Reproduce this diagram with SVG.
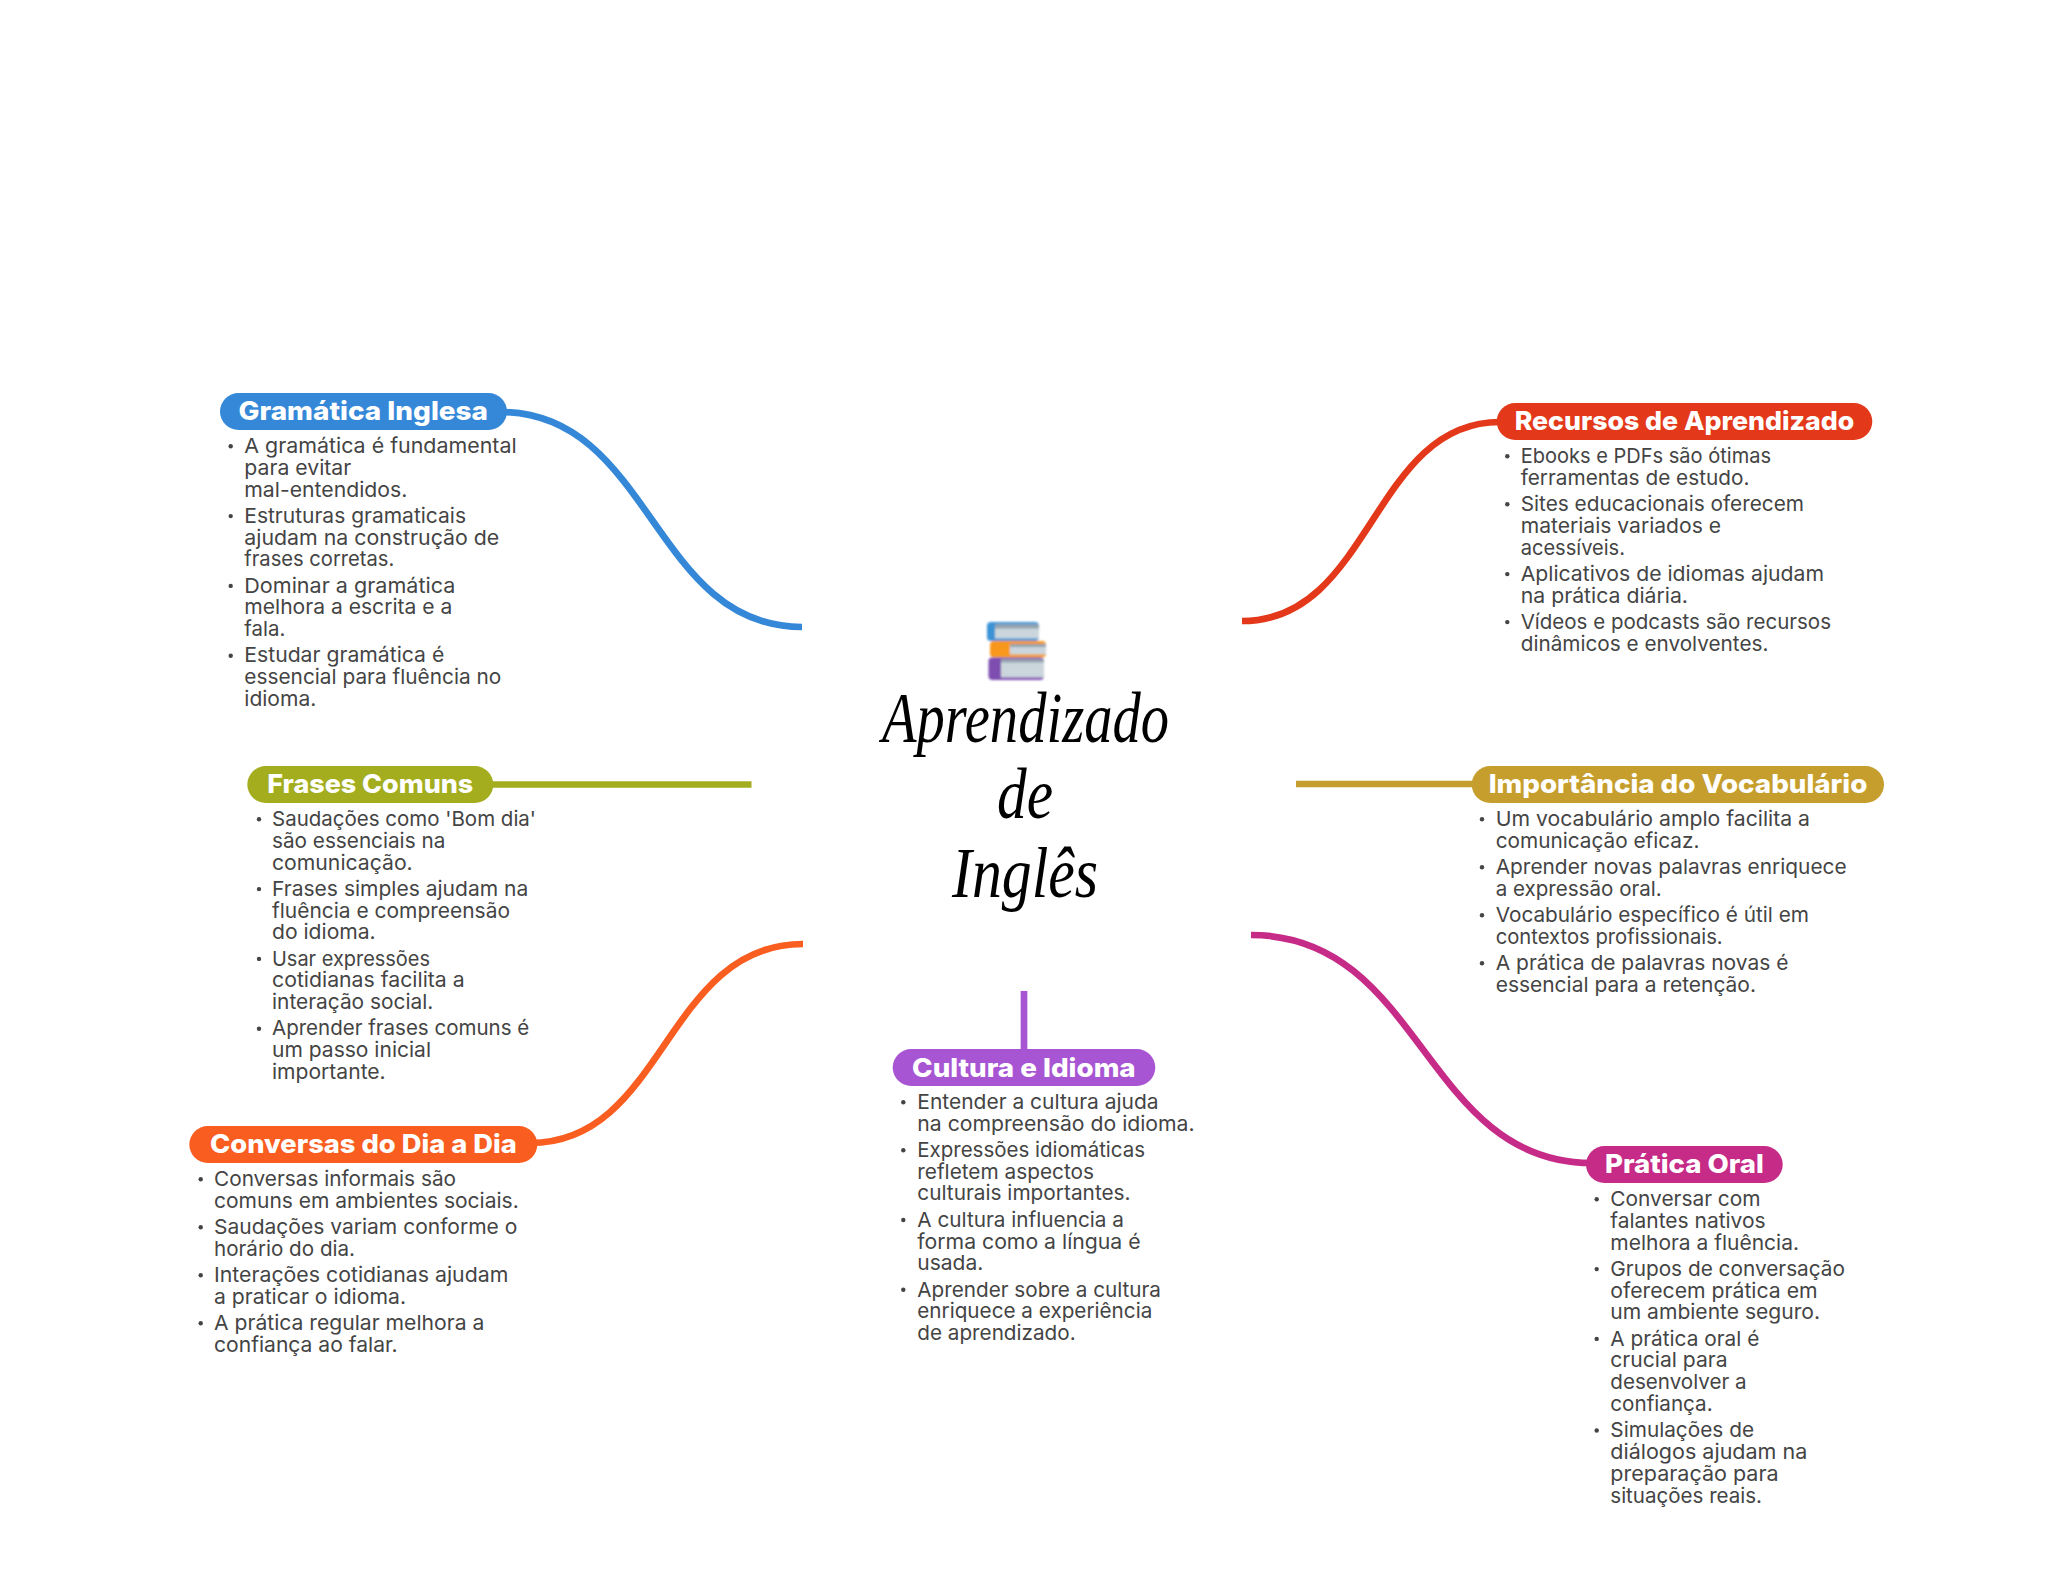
<svg xmlns="http://www.w3.org/2000/svg" width="2048" height="1569" viewBox="0 0 2048 1569">
<style>
.t{font-family:Inter,"Noto Sans","Liberation Sans",sans-serif;font-size:20.5px;font-weight:400;fill:#444}
.h{font-family:Inter,"Noto Sans","Liberation Sans",sans-serif;font-size:26px;font-weight:800;fill:#fff;transform:translateY(.6px)}
.s{font-family:"Liberation Serif",serif;font-style:italic;font-size:72px;fill:#000}
.c{fill:none;stroke-width:6.7}
circle{fill:#444}
</style>
<defs><filter id="soft" x="-10%" y="-10%" width="120%" height="120%"><feGaussianBlur stdDeviation="0.9"/></filter></defs>
<rect width="2048" height="1569" fill="#fff"/>
<g id="connectors">
<path class="c" stroke="#3588D8" d="M500 412C652 412 652 627 802 627"/>
<path class="c" stroke="#E3391A" d="M1242 621C1372 621 1372 422 1500 422"/>
<path class="c" stroke="#F95D20" d="M803 944C665 944 665 1143 530 1143"/>
<path class="c" stroke="#C62B88" d="M1251 935C1423 935 1423 1163 1592 1163"/>
<path class="c" stroke="#A3AD1E" d="M490 784.5H751.5"/>
<path class="c" stroke="#C69E2D" d="M1296 784H1476"/>
<path class="c" stroke="#A855D4" d="M1024 991V1052"/>
</g>
<g id="center">
<g id="books" filter="url(#soft)">
<rect x="987" y="622" width="52" height="19" rx="4" fill="#3A93D6"/><rect x="995" y="624.5" width="44" height="14" fill="#CBD6DC"/><rect x="995" y="624.5" width="44" height="4" fill="#93A3AD"/>
<rect x="990" y="641" width="56" height="16.5" rx="4" fill="#F7981D"/><rect x="1010" y="644" width="36" height="10.5" fill="#CBD6DC"/><rect x="1010" y="644" width="36" height="3" fill="#93A3AD"/>
<rect x="988.5" y="657.5" width="55.5" height="22.5" rx="4" fill="#7E4DB0"/><rect x="1001" y="659.5" width="43" height="18" fill="#CBD6DC"/><rect x="1001" y="659.5" width="43" height="3" fill="#93A3AD"/>
</g>
<text class="s" x="882" y="741.7" textLength="287" lengthAdjust="spacingAndGlyphs">Aprendizado</text>
<text class="s" x="997" y="818" textLength="56" lengthAdjust="spacingAndGlyphs">de</text>
<text class="s" x="952" y="896.7" textLength="146" lengthAdjust="spacingAndGlyphs">Inglês</text>
</g>
<g id="gramatica">
<rect x="220" y="393" width="287" height="37" rx="18.5" fill="#3588D8"/>
<text class="h" x="238.5" y="419.3" textLength="249.5" lengthAdjust="spacingAndGlyphs">Gramática Inglesa</text>
<circle cx="230.7" cy="446.3" r="2.2"/><circle cx="230.7" cy="516.1" r="2.2"/><circle cx="230.7" cy="585.9" r="2.2"/><circle cx="230.7" cy="655.7" r="2.2"/>
<text class="t" x="244.3" y="453" textLength="272.3" lengthAdjust="spacingAndGlyphs">A gramática é fundamental</text>
<text class="t" x="244.3" y="474.8" textLength="107" lengthAdjust="spacingAndGlyphs">para evitar</text>
<text class="t" x="244.3" y="496.5" textLength="163" lengthAdjust="spacingAndGlyphs">mal-entendidos.</text>
<text class="t" x="244.3" y="522.8" textLength="221.7" lengthAdjust="spacingAndGlyphs">Estruturas gramaticais</text>
<text class="t" x="244.3" y="544.6" textLength="255" lengthAdjust="spacingAndGlyphs">ajudam na construção de</text>
<text class="t" x="244.3" y="566.3" textLength="150" lengthAdjust="spacingAndGlyphs">frases corretas.</text>
<text class="t" x="244.3" y="592.6" textLength="211" lengthAdjust="spacingAndGlyphs">Dominar a gramática</text>
<text class="t" x="244.3" y="614.4" textLength="208" lengthAdjust="spacingAndGlyphs">melhora a escrita e a</text>
<text class="t" x="244.3" y="636.1" textLength="41" lengthAdjust="spacingAndGlyphs">fala.</text>
<text class="t" x="244.3" y="662.4" textLength="200" lengthAdjust="spacingAndGlyphs">Estudar gramática é</text>
<text class="t" x="244.3" y="684.2" textLength="257" lengthAdjust="spacingAndGlyphs">essencial para fluência no</text>
<text class="t" x="244.3" y="705.9" textLength="72" lengthAdjust="spacingAndGlyphs">idioma.</text>
</g>
<g id="frases">
<rect x="247.3" y="766" width="246" height="37" rx="18.5" fill="#A3AD1E"/>
<text class="h" x="267.3" y="792.7" textLength="206" lengthAdjust="spacingAndGlyphs">Frases Comuns</text>
<circle cx="259" cy="819.3" r="2.2"/><circle cx="259" cy="889.1" r="2.2"/><circle cx="259" cy="958.9" r="2.2"/><circle cx="259" cy="1028.7" r="2.2"/>
<text class="t" x="272" y="826" textLength="264" lengthAdjust="spacingAndGlyphs">Saudações como 'Bom dia'</text>
<text class="t" x="272" y="847.8" textLength="173.3" lengthAdjust="spacingAndGlyphs">são essenciais na</text>
<text class="t" x="272" y="869.5" textLength="140.7" lengthAdjust="spacingAndGlyphs">comunicação.</text>
<text class="t" x="272" y="895.8" textLength="256.3" lengthAdjust="spacingAndGlyphs">Frases simples ajudam na</text>
<text class="t" x="272" y="917.6" textLength="238" lengthAdjust="spacingAndGlyphs">fluência e compreensão</text>
<text class="t" x="272" y="939.3" textLength="103.7" lengthAdjust="spacingAndGlyphs">do idioma.</text>
<text class="t" x="272" y="965.6" textLength="158" lengthAdjust="spacingAndGlyphs">Usar expressões</text>
<text class="t" x="272" y="987.4" textLength="192.7" lengthAdjust="spacingAndGlyphs">cotidianas facilita a</text>
<text class="t" x="272" y="1009.1" textLength="161.3" lengthAdjust="spacingAndGlyphs">interação social.</text>
<text class="t" x="272" y="1035.4" textLength="257.3" lengthAdjust="spacingAndGlyphs">Aprender frases comuns é</text>
<text class="t" x="272" y="1057.2" textLength="159" lengthAdjust="spacingAndGlyphs">um passo inicial</text>
<text class="t" x="272" y="1078.9" textLength="113.7" lengthAdjust="spacingAndGlyphs">importante.</text>
</g>
<g id="conversas">
<rect x="189.3" y="1126" width="348" height="37" rx="18.5" fill="#F95D20"/>
<text class="h" x="210" y="1152.7" textLength="306.7" lengthAdjust="spacingAndGlyphs">Conversas do Dia a Dia</text>
<circle cx="200.7" cy="1179.3" r="2.2"/><circle cx="200.7" cy="1227.2" r="2.2"/><circle cx="200.7" cy="1275.2" r="2.2"/><circle cx="200.7" cy="1323.2" r="2.2"/>
<text class="t" x="214" y="1186" textLength="242" lengthAdjust="spacingAndGlyphs">Conversas informais são</text>
<text class="t" x="214" y="1207.8" textLength="304.7" lengthAdjust="spacingAndGlyphs">comuns em ambientes sociais.</text>
<text class="t" x="214" y="1233.9" textLength="303.3" lengthAdjust="spacingAndGlyphs">Saudações variam conforme o</text>
<text class="t" x="214" y="1255.7" textLength="141" lengthAdjust="spacingAndGlyphs">horário do dia.</text>
<text class="t" x="214" y="1281.9" textLength="294.3" lengthAdjust="spacingAndGlyphs">Interações cotidianas ajudam</text>
<text class="t" x="214" y="1303.7" textLength="192" lengthAdjust="spacingAndGlyphs">a praticar o idioma.</text>
<text class="t" x="214" y="1329.9" textLength="270.3" lengthAdjust="spacingAndGlyphs">A prática regular melhora a</text>
<text class="t" x="214" y="1351.7" textLength="183.7" lengthAdjust="spacingAndGlyphs">confiança ao falar.</text>
</g>
<g id="cultura">
<rect x="892.7" y="1049" width="262.6" height="37" rx="18.5" fill="#A855D4"/>
<text class="h" x="912" y="1076" textLength="223.7" lengthAdjust="spacingAndGlyphs">Cultura e Idioma</text>
<circle cx="903.3" cy="1102.3" r="2.2"/><circle cx="903.3" cy="1150.2" r="2.2"/><circle cx="903.3" cy="1220" r="2.2"/><circle cx="903.3" cy="1289.8" r="2.2"/>
<text class="t" x="917.3" y="1109" textLength="241.3" lengthAdjust="spacingAndGlyphs">Entender a cultura ajuda</text>
<text class="t" x="917.3" y="1130.8" textLength="277.3" lengthAdjust="spacingAndGlyphs">na compreensão do idioma.</text>
<text class="t" x="917.3" y="1156.9" textLength="227.7" lengthAdjust="spacingAndGlyphs">Expressões idiomáticas</text>
<text class="t" x="917.3" y="1178.7" textLength="176.7" lengthAdjust="spacingAndGlyphs">refletem aspectos</text>
<text class="t" x="917.3" y="1200.4" textLength="213.3" lengthAdjust="spacingAndGlyphs">culturais importantes.</text>
<text class="t" x="917.3" y="1226.7" textLength="206.7" lengthAdjust="spacingAndGlyphs">A cultura influencia a</text>
<text class="t" x="917.3" y="1248.5" textLength="223.3" lengthAdjust="spacingAndGlyphs">forma como a língua é</text>
<text class="t" x="917.3" y="1270.2" textLength="66" lengthAdjust="spacingAndGlyphs">usada.</text>
<text class="t" x="917.3" y="1296.5" textLength="243.7" lengthAdjust="spacingAndGlyphs">Aprender sobre a cultura</text>
<text class="t" x="917.3" y="1318.3" textLength="235" lengthAdjust="spacingAndGlyphs">enriquece a experiência</text>
<text class="t" x="917.3" y="1340" textLength="158.3" lengthAdjust="spacingAndGlyphs">de aprendizado.</text>
</g>
<g id="recursos">
<rect x="1496.7" y="403" width="375.6" height="37" rx="18.5" fill="#E3391A"/>
<text class="h" x="1514.7" y="429.3" textLength="339.6" lengthAdjust="spacingAndGlyphs">Recursos de Aprendizado</text>
<circle cx="1507.3" cy="456.3" r="2.2"/><circle cx="1507.3" cy="504.3" r="2.2"/><circle cx="1507.3" cy="574.1" r="2.2"/><circle cx="1507.3" cy="622.1" r="2.2"/>
<text class="t" x="1520.7" y="463" textLength="250.3" lengthAdjust="spacingAndGlyphs">Ebooks e PDFs são ótimas</text>
<text class="t" x="1520.7" y="484.8" textLength="228.7" lengthAdjust="spacingAndGlyphs">ferramentas de estudo.</text>
<text class="t" x="1520.7" y="511" textLength="283.3" lengthAdjust="spacingAndGlyphs">Sites educacionais oferecem</text>
<text class="t" x="1520.7" y="532.8" textLength="200.3" lengthAdjust="spacingAndGlyphs">materiais variados e</text>
<text class="t" x="1520.7" y="554.5" textLength="104.3" lengthAdjust="spacingAndGlyphs">acessíveis.</text>
<text class="t" x="1520.7" y="580.8" textLength="303.3" lengthAdjust="spacingAndGlyphs">Aplicativos de idiomas ajudam</text>
<text class="t" x="1520.7" y="602.6" textLength="167.3" lengthAdjust="spacingAndGlyphs">na prática diária.</text>
<text class="t" x="1520.7" y="628.8" textLength="310.3" lengthAdjust="spacingAndGlyphs">Vídeos e podcasts são recursos</text>
<text class="t" x="1520.7" y="650.6" textLength="247.7" lengthAdjust="spacingAndGlyphs">dinâmicos e envolventes.</text>
</g>
<g id="importancia">
<rect x="1471.7" y="766" width="412.3" height="37" rx="18.5" fill="#C69E2D"/>
<text class="h" x="1488.7" y="792.7" textLength="378.6" lengthAdjust="spacingAndGlyphs">Importância do Vocabulário</text>
<circle cx="1482" cy="819.3" r="2.2"/><circle cx="1482" cy="867.2" r="2.2"/><circle cx="1482" cy="915.2" r="2.2"/><circle cx="1482" cy="963.2" r="2.2"/>
<text class="t" x="1495.7" y="826" textLength="314.3" lengthAdjust="spacingAndGlyphs">Um vocabulário amplo facilita a</text>
<text class="t" x="1495.7" y="847.8" textLength="203.7" lengthAdjust="spacingAndGlyphs">comunicação eficaz.</text>
<text class="t" x="1495.7" y="873.9" textLength="351" lengthAdjust="spacingAndGlyphs">Aprender novas palavras enriquece</text>
<text class="t" x="1495.7" y="895.7" textLength="166" lengthAdjust="spacingAndGlyphs">a expressão oral.</text>
<text class="t" x="1495.7" y="921.9" textLength="313.3" lengthAdjust="spacingAndGlyphs">Vocabulário específico é útil em</text>
<text class="t" x="1495.7" y="943.7" textLength="227" lengthAdjust="spacingAndGlyphs">contextos profissionais.</text>
<text class="t" x="1495.7" y="969.9" textLength="292.7" lengthAdjust="spacingAndGlyphs">A prática de palavras novas é</text>
<text class="t" x="1495.7" y="991.7" textLength="260.3" lengthAdjust="spacingAndGlyphs">essencial para a retenção.</text>
</g>
<g id="pratica">
<rect x="1586" y="1146" width="196.7" height="37" rx="18.5" fill="#C62B88"/>
<text class="h" x="1605" y="1172.7" textLength="158.7" lengthAdjust="spacingAndGlyphs">Prática Oral</text>
<circle cx="1596.7" cy="1199.3" r="2.2"/><circle cx="1596.7" cy="1269.1" r="2.2"/><circle cx="1596.7" cy="1338.9" r="2.2"/><circle cx="1596.7" cy="1430.5" r="2.2"/>
<text class="t" x="1610.3" y="1206" textLength="150.3" lengthAdjust="spacingAndGlyphs">Conversar com</text>
<text class="t" x="1610.3" y="1227.8" textLength="155.3" lengthAdjust="spacingAndGlyphs">falantes nativos</text>
<text class="t" x="1610.3" y="1249.5" textLength="188.7" lengthAdjust="spacingAndGlyphs">melhora a fluência.</text>
<text class="t" x="1610.3" y="1275.8" textLength="234.7" lengthAdjust="spacingAndGlyphs">Grupos de conversação</text>
<text class="t" x="1610.3" y="1297.6" textLength="207.3" lengthAdjust="spacingAndGlyphs">oferecem prática em</text>
<text class="t" x="1610.3" y="1319.3" textLength="209.7" lengthAdjust="spacingAndGlyphs">um ambiente seguro.</text>
<text class="t" x="1610.3" y="1345.6" textLength="149" lengthAdjust="spacingAndGlyphs">A prática oral é</text>
<text class="t" x="1610.3" y="1367.4" textLength="117.3" lengthAdjust="spacingAndGlyphs">crucial para</text>
<text class="t" x="1610.3" y="1389.1" textLength="136.3" lengthAdjust="spacingAndGlyphs">desenvolver a</text>
<text class="t" x="1610.3" y="1410.9" textLength="102.3" lengthAdjust="spacingAndGlyphs">confiança.</text>
<text class="t" x="1610.3" y="1437.2" textLength="143.7" lengthAdjust="spacingAndGlyphs">Simulações de</text>
<text class="t" x="1610.3" y="1459" textLength="197" lengthAdjust="spacingAndGlyphs">diálogos ajudam na</text>
<text class="t" x="1610.3" y="1480.7" textLength="168.3" lengthAdjust="spacingAndGlyphs">preparação para</text>
<text class="t" x="1610.3" y="1502.5" textLength="151.7" lengthAdjust="spacingAndGlyphs">situações reais.</text>
</g>
</svg>
